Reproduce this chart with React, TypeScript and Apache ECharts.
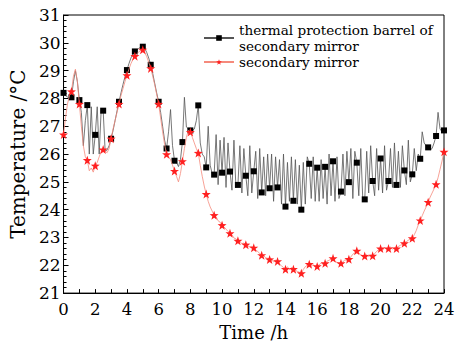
import React, { useEffect, useRef } from 'react';
import * as echarts from 'echarts';

// time step of the sampled curves (hours) and marker spacing (every 4th sample = 0.5 h)
const STEP = 0.125;
const MARKER_EVERY = 4;

const xTickLabels = ['0', '2', '4', '6', '8', '10', '12', '14', '16', '18', '20', '22', '24'];
const yTickLabels = ['21', '22', '23', '24', '25', '26', '27', '28', '29', '30', '31'];

const barrelName = 'thermal protection barrel of\nsecondary mirror';
const mirrorName = 'secondary mirror';

// thermal protection barrel of secondary mirror, °C, 0..24 h every 0.125 h
const barrel = [
  28.2, 28.1, 28.05, 28.0,
  28.04, 28.6, 29.0, 28.6,
  27.94, 27.5, 26.3, 27.2,
  27.76, 26.0, 27.7, 26.0,
  26.69, 27.7, 26.0, 27.6,
  27.56, 26.1, 26.15, 26.3,
  26.55, 26.85, 27.2, 27.55,
  27.88, 28.2, 28.5, 28.78,
  29.02, 29.25, 29.45, 29.6,
  29.69, 29.75, 29.8, 29.85,
  29.86, 29.8, 29.65, 29.45,
  29.21, 28.9, 28.55, 28.2,
  27.88, 27.5, 27.0, 26.5,
  26.2, 26.8, 27.6, 26.3,
  25.76, 25.7, 25.55, 25.8,
  26.43, 28.04, 26.97, 26.9,
  26.85, 26.85, 26.9, 27.2,
  27.75, 26.4, 26.0, 25.9,
  25.52, 27.0, 25.6, 25.3,
  25.26, 26.7, 24.9, 26.5,
  25.33, 26.6, 24.8, 26.4,
  25.37, 24.7, 26.5, 24.8,
  24.89, 26.3, 24.6, 26.2,
  25.22, 24.5, 26.3, 24.6,
  25.38, 26.1, 24.4, 26.2,
  24.62, 25.9, 24.5, 26.0,
  24.77, 26.0, 24.3, 25.9,
  24.8, 25.8, 24.2, 26.0,
  24.11, 25.7, 24.3, 25.9,
  24.32, 25.8, 24.2, 25.6,
  24.0, 25.7, 24.2, 25.9,
  25.65, 24.4, 25.9, 24.3,
  25.51, 24.3, 25.8, 24.4,
  25.54, 24.2, 26.0, 24.5,
  25.74, 24.3, 25.9, 24.4,
  24.65, 26.0, 24.5, 26.1,
  24.99, 26.2, 24.4, 26.1,
  25.69, 24.5, 26.2, 24.4,
  24.37, 26.1, 24.6, 26.3,
  25.03, 24.5, 26.2, 24.7,
  25.84, 24.6, 26.3, 24.7,
  25.03, 26.2, 24.8, 26.4,
  24.89, 26.1, 24.8, 26.3,
  25.41, 24.9, 26.5, 25.0,
  25.27, 26.2, 25.4, 26.0,
  25.83, 26.8, 26.4, 26.3,
  26.24, 26.15, 26.2, 26.4,
  26.65, 27.5, 26.9, 26.8,
  26.85,
];

// secondary mirror, °C, 0..24 h every 0.125 h
const mirror = [
  26.7, 27.3, 27.8, 28.1,
  28.25, 28.8, 29.05, 28.6,
  27.8, 27.0, 26.3, 25.9,
  25.78, 25.4, 25.5, 25.35,
  25.58, 25.7, 25.9, 26.1,
  26.16, 26.1, 26.05, 26.2,
  26.55, 26.9, 27.2, 27.5,
  27.8, 28.1, 28.35, 28.6,
  28.83, 29.05, 29.25, 29.4,
  29.52, 29.6, 29.68, 29.73,
  29.75, 29.65, 29.5, 29.3,
  29.08, 28.8, 28.5, 28.15,
  27.8, 27.3, 26.8, 26.35,
  25.99, 25.9, 25.8, 25.6,
  25.39, 25.2, 25.0, 25.3,
  25.74, 26.2, 26.6, 26.85,
  26.79, 26.6, 26.4, 26.2,
  26.04, 25.6, 25.2, 24.85,
  24.56, 24.3, 24.1, 23.95,
  23.8, 23.75, 23.6, 23.55,
  23.44, 23.38, 23.3, 23.22,
  23.15, 23.1, 22.98, 22.95,
  22.88, 22.85, 22.78, 22.8,
  22.74, 22.7, 22.66, 22.68,
  22.63, 22.55, 22.5, 22.42,
  22.36, 22.35, 22.27, 22.25,
  22.21, 22.2, 22.12, 22.18,
  22.14, 22.05, 21.98, 21.92,
  21.86, 21.95, 21.84, 21.92,
  21.86, 21.82, 21.78, 21.75,
  21.71, 21.85, 21.95, 22.0,
  22.04, 21.98, 22.02, 21.96,
  21.96, 22.02, 22.08, 22.03,
  22.07, 22.15, 22.18, 22.22,
  22.25, 22.15, 22.1, 22.05,
  22.07, 22.12, 22.2, 22.16,
  22.22, 22.3, 22.4, 22.45,
  22.52, 22.45, 22.38, 22.35,
  22.33, 22.38, 22.32, 22.36,
  22.34, 22.42, 22.5, 22.56,
  22.6, 22.55, 22.62, 22.58,
  22.6, 22.66, 22.58, 22.63,
  22.6, 22.68, 22.72, 22.75,
  22.79, 22.85, 22.9, 22.94,
  22.97, 23.1, 23.25, 23.45,
  23.61, 23.78, 23.95, 24.1,
  24.27, 24.45, 24.6, 24.75,
  24.91, 25.15, 25.45, 25.75,
  26.08,
];

const STAR =
  'path://M0,-10L2.35,-3.24L9.51,-3.09L3.8,1.24L5.88,8.09L0,4L-5.88,8.09L-3.8,1.24L-9.51,-3.09L-2.35,-3.24Z';

const FONT = 'DejaVu Serif';

export default function App() {
  const ref = useRef<HTMLDivElement>(null);

  useEffect(() => {
    document.body.style.margin = '0';
    if (!ref.current) return;
    const chart = echarts.init(ref.current, undefined, { renderer: 'svg' });
    const xMin = Number(xTickLabels[0]);
    const xMax = Number(xTickLabels[xTickLabels.length - 1]);
    const yMin = Number(yTickLabels[0]);
    const yMax = Number(yTickLabels[yTickLabels.length - 1]);

    chart.setOption({
      animation: false,
      grid: {
        left: 62,
        right: 22,
        top: 15,
        bottom: 50,
        show: true,
        borderColor: '#000',
        borderWidth: 1,
      },
      legend: {
        orient: 'vertical',
        left: 198,
        top: 17,
        itemWidth: 30,
        itemHeight: 7,
        itemGap: 0,
        textStyle: { fontFamily: FONT, fontSize: 13.6, lineHeight: 16, color: '#000' },
        data: [barrelName, mirrorName],
      },
      xAxis: {
        type: 'value',
        min: xMin,
        max: xMax,
        interval: 2,
        name: 'Time /h',
        nameLocation: 'middle',
        nameGap: 28,
        nameTextStyle: { fontFamily: FONT, fontSize: 18, color: '#000' },
        axisLine: { lineStyle: { color: '#000', width: 1 } },
        axisTick: { inside: true, length: 4, lineStyle: { color: '#000' } },
        minorTick: { show: true, splitNumber: 2, length: 4, lineStyle: { color: '#000' } },
        axisLabel: { fontFamily: FONT, fontSize: 16.5, color: '#000', margin: 8 },
        splitLine: { show: false },
      },
      yAxis: {
        type: 'value',
        min: yMin,
        max: yMax,
        interval: 1,
        name: 'Temperature /°C',
        nameLocation: 'middle',
        nameGap: 32,
        nameTextStyle: { fontFamily: FONT, fontSize: 20, color: '#000' },
        axisLine: { lineStyle: { color: '#000', width: 1 } },
        axisTick: { inside: true, length: 5, lineStyle: { color: '#000' } },
        minorTick: { show: true, splitNumber: 5, length: 3, lineStyle: { color: '#000' } },
        axisLabel: { fontFamily: FONT, fontSize: 17, color: '#000', margin: 3 },
        splitLine: { show: false },
      },
      series: [
        {
          name: barrelName,
          type: 'line',
          data: barrel.map((v, i) => [i * STEP, v]),
          symbol: 'rect',
          symbolSize: (_v: any, p: any) => (p.dataIndex % MARKER_EVERY === 0 ? 6 : 0),
          lineStyle: { color: '#555', width: 0.8 },
          itemStyle: { color: '#000' },
          z: 2,
        },
        {
          name: mirrorName,
          type: 'line',
          data: mirror.map((v, i) => [i * STEP, v]),
          symbol: STAR,
          symbolSize: (_v: any, p: any) => (p.dataIndex % MARKER_EVERY === 0 ? 9 : 0),
          lineStyle: { color: '#f58a7c', width: 0.8 },
          itemStyle: { color: '#ff2020' },
          z: 3,
        },
      ],
    });
    return () => chart.dispose();
  }, []);

  return <div ref={ref} style={{ width: 466, height: 346 }} />;
}
